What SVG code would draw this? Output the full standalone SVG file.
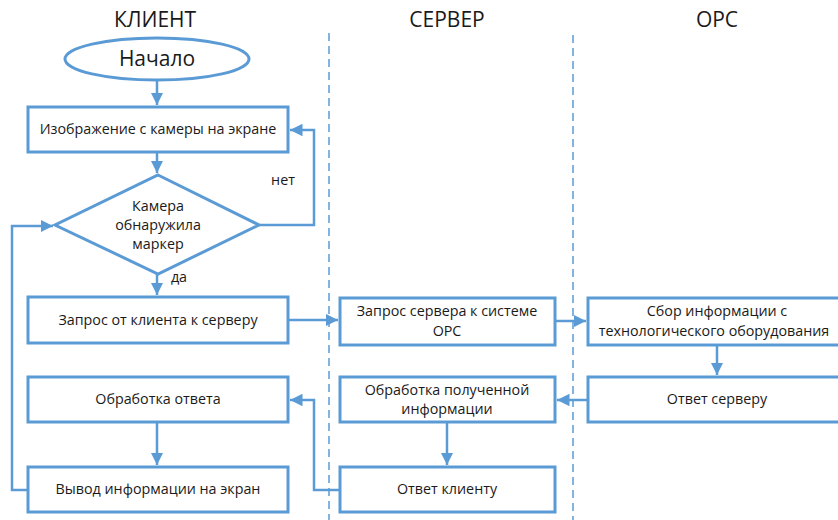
<svg xmlns="http://www.w3.org/2000/svg" width="838" height="520" viewBox="0 0 838 520">
<style>
.box{fill:#fff;stroke:#5B9BD5;stroke-width:3}
.lane{stroke:#5B9BD5;stroke-width:1.5;stroke-dasharray:8 5;fill:none}
.c{fill:none;stroke:#5B9BD5;stroke-width:2.5}
.t{font-family:"Open Sans","Noto Sans",sans-serif;font-size:14.3px;fill:#1a1a1a;text-anchor:middle}
.h{font-family:"Open Sans","Noto Sans",sans-serif;font-size:21px;fill:#1a1a1a;text-anchor:middle}
</style>
<defs>
<marker id="a" viewBox="0 0 10 10" refX="10" refY="5" markerWidth="5" markerHeight="5" orient="auto" markerUnits="strokeWidth">
<path d="M0,0 L10,5 L0,10 z" fill="#5B9BD5"/>
</marker>
</defs>
<rect width="838" height="520" fill="#fff"/>
<g id="lanes">
<text class="h" x="155" y="27">КЛИЕНТ</text>
<text class="h" x="447" y="27">СЕРВЕР</text>
<text class="h" x="717" y="27">ОРС</text>
<line class="lane" x1="329" y1="33" x2="329" y2="520"/>
<line class="lane" x1="573" y1="35" x2="573" y2="520"/>
</g>
<g id="connectors">
<line class="c" x1="157" y1="80" x2="157" y2="105" marker-end="url(#a)"/>
<line class="c" x1="157" y1="152" x2="157" y2="173" marker-end="url(#a)"/>
<polyline class="c" points="259,225 314,225 314,130 290,130" marker-end="url(#a)"/>
<line class="c" x1="157" y1="274" x2="157" y2="295" marker-end="url(#a)"/>
<line class="c" x1="288" y1="320" x2="338" y2="320" marker-end="url(#a)"/>
<line class="c" x1="555" y1="321" x2="586" y2="321" marker-end="url(#a)"/>
<line class="c" x1="717" y1="346" x2="717" y2="375" marker-end="url(#a)"/>
<line class="c" x1="588" y1="400" x2="557" y2="400" marker-end="url(#a)"/>
<line class="c" x1="447" y1="421" x2="447" y2="465" marker-end="url(#a)"/>
<polyline class="c" points="340,490 314,490 314,400 290,400" marker-end="url(#a)"/>
<line class="c" x1="157" y1="422" x2="157" y2="465" marker-end="url(#a)"/>
<polyline class="c" points="28,490 12,490 12,226 53,226" marker-end="url(#a)"/>
<text class="t" x="283" y="185">нет</text>
<text class="t" x="179" y="282">да</text>
</g>
<g id="start">
<ellipse class="box" cx="157" cy="59" rx="92" ry="21"/>
<text class="t" x="157" y="66" style="font-size:21px">Начало</text>
</g>
<g id="image">
<rect class="box" x="28" y="107" width="260" height="45"/>
<text class="t" x="158" y="134">Изображение с камеры на экране</text>
</g>
<g id="decision">
<polygon class="box" points="158,175 259,225 158,274 55,225"/>
<text class="t" x="158" y="211">Камера</text>
<text class="t" x="158" y="230">обнаружила</text>
<text class="t" x="158" y="249">маркер</text>
</g>
<g id="req-client">
<rect class="box" x="28" y="297" width="260" height="46"/>
<text class="t" x="158" y="325">Запрос от клиента к серверу</text>
</g>
<g id="req-server">
<rect class="box" x="340" y="298" width="215" height="47"/>
<text class="t" x="447" y="316">Запрос сервера к системе</text>
<text class="t" x="447" y="336">ОРС</text>
</g>
<g id="collect">
<rect class="box" x="588" y="298" width="252" height="47"/>
<text class="t" x="717" y="316">Сбор информации с</text>
<text class="t" x="714" y="336">технологического оборудования</text>
</g>
<g id="answer-server">
<rect class="box" x="588" y="377" width="252" height="45"/>
<text class="t" x="717" y="404">Ответ серверу</text>
</g>
<g id="process-server">
<rect class="box" x="340" y="377" width="215" height="45"/>
<text class="t" x="447" y="395">Обработка полученной</text>
<text class="t" x="447" y="414">информации</text>
</g>
<g id="answer-client">
<rect class="box" x="340" y="467" width="215" height="45"/>
<text class="t" x="447" y="494">Ответ клиенту</text>
</g>
<g id="process-client">
<rect class="box" x="28" y="377" width="260" height="45"/>
<text class="t" x="158" y="404">Обработка ответа</text>
</g>
<g id="output">
<rect class="box" x="28" y="467" width="260" height="45"/>
<text class="t" x="158" y="494">Вывод информации на экран</text>
</g>
</svg>
